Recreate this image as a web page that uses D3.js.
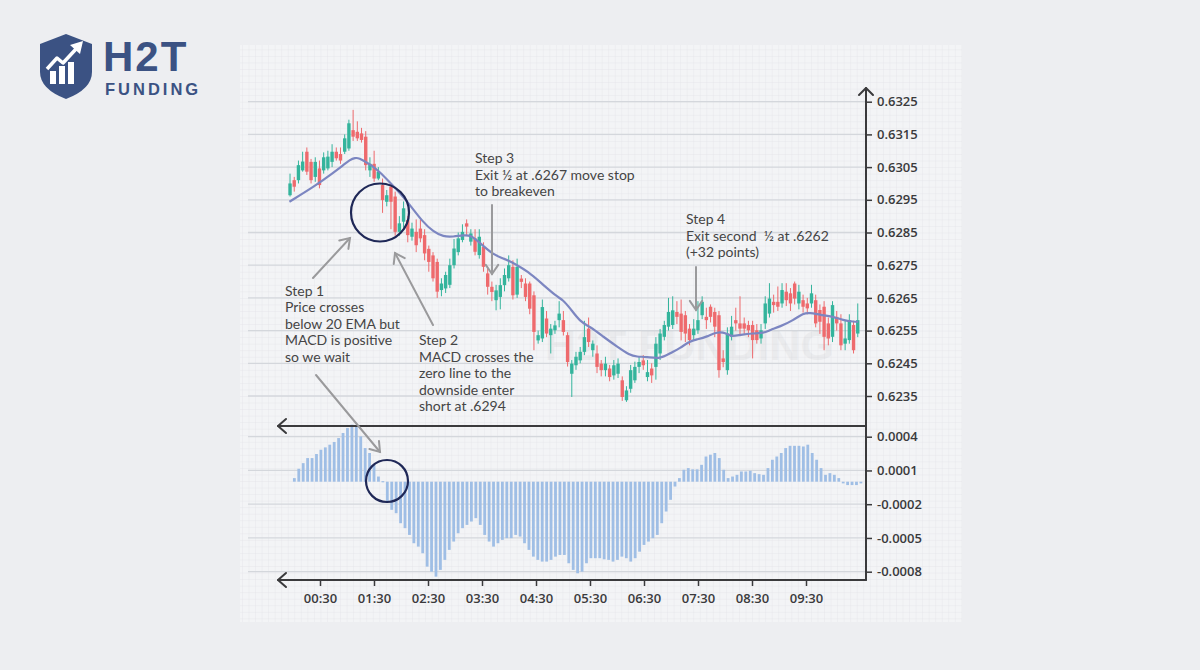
<!DOCTYPE html>
<html><head><meta charset="utf-8">
<script src="https://cdn.jsdelivr.net/npm/d3@7"></script>
<style>html,body{margin:0;padding:0;background:#edeef1;} svg{display:block;}</style>
</head><body>
<svg id="c" width="1200" height="670"></svg>
<script>
// ---------- DATA ----------
const timeTicks = [30, 90, 150, 210, 270, 330, 390, 450, 510, 570];
const timeLabels = ["00:30","01:30","02:30","03:30","04:30","05:30","06:30","07:30","08:30","09:30"];
const priceTicks = [0.6325, 0.6315, 0.6305, 0.6295, 0.6285, 0.6275, 0.6265, 0.6255, 0.6245, 0.6235];
const macdTicks = [0.0004, 0.0001, -0.0002, -0.0005, -0.0008];

const candleOpen = [
0.62964,0.6301,0.6301,0.6304,0.63097,0.63066,0.6302,0.63046,0.6304,0.63046,
0.63066,0.63097,0.6309,0.63097,0.63107,0.63163,0.63158,0.63153,0.63143,0.6304,
0.6306,0.63015,0.62995,0.62944,0.6299,0.6296,0.62852,0.62883,0.62888,0.62837,
0.62852,0.62862,0.62842,0.628,0.6278,0.6276,0.62674,0.62679,0.6269,0.6275,
0.6279,0.62827,0.62878,0.62822,0.62832,
0.62781,0.62806,0.62725,0.62684,0.62643,0.62653,0.62689,0.6271,0.62745,0.6266,
0.62709,0.62694,0.62694,0.62658,0.6252,0.62526,0.62587,0.62536,0.62551,0.62582,
0.62582,0.62536,0.62418,0.62444,0.62459,0.62485,0.62556,0.6249,0.6248,0.62449,
0.62429,0.62434,0.62413,0.62418,0.62398,0.62337,0.62372,0.62398,0.62439,0.62459,
0.62408,0.62434,0.62439,
0.6248,0.62531,0.62562,0.62567,0.62607,0.62602,0.62597,0.62556,0.62536,0.62551,
0.62597,0.62592,0.62623,0.62607,0.62597,0.62465,0.62429,0.62531,0.62582,0.62572,
0.62572,0.62567,0.62567,0.62551,0.62526,0.62572,0.62602,0.62638,0.62638,0.62633,
0.62669,0.62664,0.62694,0.62633,0.62643,0.62633,0.62633,0.62643,0.62613,0.62623,
0.62572,0.62531,0.62592,0.62572,0.6251,0.62521,0.62567,0.62541];
const candleHigh = [
0.6303,0.6302,0.6307,0.63097,0.6311,0.63075,0.6308,0.6307,0.63095,0.631,
0.6312,0.6311,0.6311,0.6315,0.63195,0.63225,0.6319,0.6317,0.6316,0.6308,
0.631,0.6305,0.63015,0.6298,0.63,0.62975,0.629,0.62945,0.629,0.6288,
0.6289,0.6289,0.6286,0.6281,0.6279,0.6277,0.6271,0.6273,0.6277,0.6283,
0.6285,0.62875,0.6289,0.6286,0.6286,
0.6286,0.6282,0.6274,0.627,0.6269,0.6271,0.6274,0.6278,0.62765,0.6277,
0.6272,0.6271,0.627,0.6267,0.6255,0.62645,0.6261,0.6257,0.6258,0.6264,
0.6261,0.62545,0.6246,0.62485,0.625,0.6258,0.6259,0.6252,0.62505,0.6246,
0.6247,0.62445,0.6246,0.62465,0.6241,0.6238,0.62445,0.62455,0.6247,0.62475,
0.6246,0.6245,0.6253,
0.62555,0.6258,0.6265,0.62655,0.6264,0.62645,0.6261,0.6257,0.62585,0.6264,
0.62655,0.6262,0.6263,0.6262,0.6261,0.6249,0.6256,0.62595,0.6262,0.62655,
0.6259,0.6258,0.6258,0.6257,0.6257,0.62655,0.62695,0.6266,0.62685,0.62695,
0.62695,0.6268,0.627,0.6269,0.6266,0.6265,0.6269,0.6266,0.6263,0.6264,
0.6259,0.6264,0.6261,0.626,0.6258,0.626,0.6258,0.62633];
const candleLow = [
0.6296,0.62975,0.63,0.63036,0.63026,0.63,0.63005,0.62985,0.6303,0.6304,
0.6305,0.6307,0.6306,0.6309,0.631,0.6313,0.6313,0.63125,0.6304,0.6302,
0.63005,0.6301,0.6291,0.6293,0.6286,0.6284,0.6284,0.6286,0.6282,0.62825,
0.6279,0.6282,0.62765,0.6273,0.627,0.6265,0.62655,0.62665,0.6268,0.6274,
0.6278,0.6282,0.6284,0.6281,0.6278,
0.6277,0.6273,0.6266,0.6264,0.62612,0.62615,0.6267,0.627,0.62645,0.6265,
0.6268,0.6264,0.626,0.6249,0.6251,0.62515,0.6253,0.6248,0.6254,0.6256,
0.62535,0.6244,0.62347,0.6243,0.6245,0.62475,0.625,0.6247,0.6242,0.6241,
0.6241,0.62395,0.624,0.62405,0.62335,0.62332,0.6236,0.6239,0.6242,0.6243,
0.62395,0.6239,0.624,
0.6246,0.6252,0.6255,0.62555,0.6257,0.6252,0.62515,0.62505,0.6252,0.6254,
0.62585,0.62555,0.62575,0.6253,0.62406,0.62438,0.62415,0.6252,0.6255,0.62535,
0.6254,0.6253,0.62465,0.6251,0.6251,0.62555,0.6259,0.62605,0.6261,0.6262,
0.62625,0.6261,0.6263,0.62615,0.62605,0.626,0.6262,0.6256,0.6254,0.6249,
0.62505,0.62515,0.6255,0.6249,0.6249,0.6251,0.6248,0.6253];
const candleClose = [
0.63,0.6299,0.63056,0.63067,0.63036,0.6301,0.63066,0.62995,0.6308,0.63082,
0.63097,0.63077,0.6307,0.63138,0.63184,0.63143,0.63138,0.63133,0.63056,0.6306,
0.63015,0.63036,0.62949,0.62964,0.62944,0.62852,0.62878,0.62924,0.62842,0.62862,
0.62811,0.62832,0.62786,0.6276,0.6271,0.62669,0.62694,0.6272,0.6275,0.62801,
0.62832,0.62852,0.62868,0.62847,0.62791,
0.62837,0.62745,0.62684,0.62668,0.62673,0.62689,0.6272,0.6275,0.62658,0.62745,
0.62699,0.62653,0.62617,0.62546,0.62536,0.62622,0.62541,0.62556,0.62566,0.62602,
0.62546,0.62454,0.62449,0.6247,0.62485,0.6253,0.62515,0.6251,0.62439,0.62429,
0.62449,0.62408,0.62444,0.62449,0.62347,0.62367,0.62429,0.62439,0.62454,0.62444,
0.62423,0.62413,0.6251,
0.62541,0.62567,0.62607,0.62612,0.62592,0.62546,0.62541,0.62521,0.62556,0.62582,
0.62638,0.62582,0.62592,0.62562,0.62429,0.62454,0.62541,0.62562,0.62572,0.62556,
0.62556,0.62551,0.62521,0.62521,0.62551,0.62633,0.62648,0.62628,0.62623,0.62674,
0.62643,0.62633,0.62648,0.62669,0.62623,0.62618,0.62664,0.62572,0.62577,0.62531,
0.62526,0.62628,0.62572,0.62505,0.62526,0.62582,0.6249,0.62582];

// 20 EMA (minutes from 00:00, price)
const emaTime = [-4,26,44,56,63,69,74,80,87,96,107,119,130,144,156,167,178,189,198,208,
223,234,249,261,274,293,300,308,319,330,345,360,374,382,393,408,419,430,441,449,
460,471,482,487,497,511,523,530,541,556,567,574,586,600,611,623,628];
const emaValue = [0.62944,0.62995,0.63031,0.63056,0.63072,0.63079,0.63077,0.63067,0.63056,0.63036,
0.63005,0.6297,0.62934,0.62883,0.62852,0.62837,0.62837,0.62842,0.62842,0.62817,
0.62781,0.62771,0.62751,0.6273,0.627,0.62654,0.62644,0.62618,0.62577,0.62562,
0.62531,0.62501,0.62475,0.6247,0.6247,0.62463,0.62481,0.62496,0.62518,0.62523,
0.62531,0.62547,0.62542,0.62531,0.62537,0.62542,0.62542,0.62552,0.62562,0.62582,
0.62603,0.62605,0.62598,0.62593,0.62582,0.62577,0.62577];

// MACD histogram
const macdValues = [
3.2e-5,11.5e-5,16.5e-5,21e-5,21e-5,24.6e-5,28.4e-5,30.5e-5,32.9e-5,35.3e-5,
38.8e-5,43.3e-5,47.7e-5,50.7e-5,49.2e-5,40.3e-5,29.9e-5,25.5e-5,15e-5,4.6e-5,
0.5e-5,-17.6e-5,-25e-5,-28e-5,-36.9e-5,-41.3e-5,-47.3e-5,-54.7e-5,-57.7e-5,-63.6e-5,
-75.5e-5,-80e-5,-84.4e-5,-78.4e-5,-69.5e-5,-60.6e-5,-53.2e-5,-45.8e-5,-41.3e-5,-38.4e-5,
-35.4e-5,-32.4e-5,-38.4e-5,-47.3e-5,-53.2e-5,-57.7e-5,-54.7e-5,-51.7e-5,-50.2e-5,-50.2e-5,
-47.3e-5,-48.8e-5,-54.7e-5,-60.6e-5,-66.6e-5,-69.5e-5,-71e-5,-71e-5,-69.5e-5,-66.6e-5,
-65.1e-5,-65.1e-5,-72.5e-5,-78.4e-5,-81.4e-5,-80e-5,
-72.5e-5,-68e-5,-68e-5,-68e-5,-69e-5,-69.5e-5,-71e-5,-69.5e-5,-66.6e-5,-68e-5,
-71e-5,-68e-5,-62.2e-5,-56.2e-5,-53.2e-5,-50.2e-5,-47.3e-5,-36.9e-5,-26.5e-5,-16.1e-5,
-4.3e-5,3.2e-5,10.6e-5,12.1e-5,11e-5,11e-5,15e-5,22.4e-5,24e-5,25.5e-5,
21e-5,10.6e-5,3.2e-5,4.6e-5,6.1e-5,9.1e-5,9.1e-5,9.7e-5,7.6e-5,6.7e-5,
6.1e-5,12.1e-5,19.5e-5,22.4e-5,25.5e-5,29.9e-5,31.9e-5,31.9e-5,31.9e-5,31.3e-5,
32.9e-5,25.5e-5,19.5e-5,12.1e-5,6.1e-5,7.6e-5,6.1e-5,3.2e-5,-1.5e-5,-3e-5,
-3e-5,-3e-5,-1.5e-5];

// ---------- DRAW ----------
const svg = d3.select("#c");
const W = 1200, H = 670;
svg.append("rect").attr("width", W).attr("height", H).attr("fill", "#edeef1");

const defs = svg.append("defs");
const pat = defs.append("pattern").attr("id","grid").attr("width",6.54).attr("height",6.54)
  .attr("patternUnits","userSpaceOnUse").attr("x",0).attr("y",101.7);
pat.append("path").attr("d","M6.54 0 L0 0 0 6.54").attr("fill","none").attr("stroke","#e0e2e7").attr("stroke-width",0.7);

svg.append("rect").attr("x",240).attr("y",45).attr("width",722).attr("height",577).attr("fill","#f3f4f6");
svg.append("rect").attr("x",240).attr("y",45).attr("width",722).attr("height",577).attr("fill","url(#grid)");

// scales
const xTime = d3.scaleLinear().domain([30, 570]).range([320, 806]);
const xCandle = d3.scaleLinear().domain([0, candleOpen.length - 1]).range([xTime(-3.3), xTime(627.5)]);
const xMacd = d3.scaleLinear().domain([0, macdValues.length - 1]).range([xTime(1.5), xTime(631)]);
const yPrice = d3.scaleLinear().domain([0.6235, 0.6325]).range([396, 101.7]);
const yMacd = d3.scaleLinear().domain([-0.0008, 0.0004]).range([571.7, 436.7]);

// major horizontal grid
const gGrid = svg.append("g");
gGrid.selectAll("line.p").data(priceTicks).join("line")
  .attr("x1",248).attr("x2",866).attr("y1",d=>yPrice(d)).attr("y2",d=>yPrice(d))
  .attr("stroke","#d4d7dc").attr("stroke-width",1.3);
gGrid.selectAll("line.m").data(macdTicks).join("line")
  .attr("x1",248).attr("x2",866).attr("y1",d=>yMacd(d)).attr("y2",d=>yMacd(d))
  .attr("stroke","#d4d7dc").attr("stroke-width",1.3);

// faint watermark (kept clear of the annotation texts and the axis labels)
svg.append("text").attr("x",545).attr("y",360).attr("font-family","Liberation Sans, Arial, sans-serif")
  .attr("font-weight","bold").attr("font-size",43).attr("fill","#000").attr("opacity",0.03).text("H2T FUNDING");

// candles
const green = "#34b49c", red = "#ee6a6d";
const idx = d3.range(candleOpen.length);
const gC = svg.append("g");
gC.selectAll("line").data(idx).join("line")
  .attr("x1",i=>xCandle(i)).attr("x2",i=>xCandle(i))
  .attr("y1",i=>yPrice(candleHigh[i])).attr("y2",i=>yPrice(candleLow[i]))
  .attr("stroke",i=>candleClose[i]>=candleOpen[i]?green:red).attr("stroke-width",1);
gC.selectAll("rect").data(idx).join("rect")
  .attr("x",i=>xCandle(i)-1.7).attr("width",3.4)
  .attr("y",i=>yPrice(Math.max(candleOpen[i],candleClose[i])))
  .attr("height",i=>Math.max(1.2, Math.abs(yPrice(candleOpen[i])-yPrice(candleClose[i]))))
  .attr("fill",i=>candleClose[i]>=candleOpen[i]?green:red);

// EMA
const emaLine = d3.line().x(i=>xTime(emaTime[i])).y(i=>yPrice(emaValue[i])).curve(d3.curveBasis);
svg.append("path").attr("d", emaLine(d3.range(emaTime.length)))
  .attr("fill","none").attr("stroke","#7c86c1").attr("stroke-width",2.2);

// MACD bars
svg.append("g").selectAll("rect").data(macdValues).join("rect")
  .attr("x",(d,i)=>xMacd(i)-1.4).attr("width",2.8)
  .attr("y",d=>yMacd(Math.max(d,0)))
  .attr("height",d=>Math.max(1.2, Math.abs(yMacd(d)-yMacd(0))))
  .attr("fill","#9fbee5");

// axes frame
const axCol = "#3a3a3c";
const frame = svg.append("g").attr("stroke",axCol).attr("stroke-width",2).attr("fill","none").attr("stroke-linecap","round").attr("stroke-linejoin","round");
frame.append("line").attr("x1",866).attr("x2",866).attr("y1",88).attr("y2",580);
frame.append("path").attr("d","M859,95 L866,88 L873,95");
frame.append("line").attr("x1",278).attr("x2",866).attr("y1",426).attr("y2",426);
frame.append("path").attr("d","M286,419 L278,426 L286,433");
frame.append("line").attr("x1",278).attr("x2",866).attr("y1",580).attr("y2",580);
frame.append("path").attr("d","M286,573 L278,580 L286,587");

const axFont = "'Open Sans', 'DejaVu Sans', sans-serif";
const yAx = svg.append("g").attr("transform","translate(866,0)")
  .call(d3.axisRight(yPrice).tickValues(priceTicks).tickSize(6).tickPadding(5).tickFormat(d3.format(".4f")));
const mAx = svg.append("g").attr("transform","translate(866,0)")
  .call(d3.axisRight(yMacd).tickValues(macdTicks).tickSize(6).tickPadding(5).tickFormat(d=>d.toFixed(4)));
const xAx = svg.append("g").attr("transform","translate(0,580)")
  .call(d3.axisBottom(xTime).tickValues(timeTicks).tickSize(6).tickPadding(8).tickFormat((d,i)=>timeLabels[i]));
[yAx,mAx,xAx].forEach(a=>{
  a.select(".domain").remove();
  a.selectAll(".tick line").attr("stroke",axCol).attr("stroke-width",1.5);
  a.selectAll(".tick text").attr("fill","#3a3a3c").attr("font-size",13).attr("font-weight",600).attr("font-family",axFont);
});

// circles
svg.append("circle").attr("cx",380).attr("cy",212.5).attr("r",29).attr("fill","none").attr("stroke","#1f2857").attr("stroke-width",2.2);
svg.append("circle").attr("cx",387).attr("cy",481).attr("r",21).attr("fill","none").attr("stroke","#1f2857").attr("stroke-width",2.2);

// arrows
const gA = svg.append("g").attr("stroke","#9a9a9c").attr("stroke-width",2).attr("fill","none").attr("stroke-linecap","round");
function arrow(x1,y1,x2,y2){
  gA.append("line").attr("x1",x1).attr("y1",y1).attr("x2",x2).attr("y2",y2);
  const a = Math.atan2(y2-y1,x2-x1), L = 11, s = 0.6;
  gA.append("path").attr("d",`M${x2-L*Math.cos(a-s)},${y2-L*Math.sin(a-s)} L${x2},${y2} L${x2-L*Math.cos(a+s)},${y2-L*Math.sin(a+s)}`);
}
arrow(313,278,350,238);
arrow(433,325,395,253);
arrow(316,375,380,452);
arrow(492,205,492,274);
arrow(696,267,696,310);

// annotation texts
const txtFont = "Lato, 'Open Sans', sans-serif";
function note(x, y0, lines){
  const t = svg.append("text").attr("font-family",txtFont).attr("font-size",14).attr("fill","#454545")
    .attr("xml:space","preserve").style("white-space","pre");
  lines.forEach((l,k)=>t.append("tspan").attr("x",x).attr("y",y0+k*16.5).text(l));
}
note(475,163,["Step 3","Exit ½ at .6267 move stop","to breakeven"]);
note(686,224,["Step 4","Exit second  ½ at .6262","(+32 points)"]);
note(285,295.5,["Step 1","Price crosses","below 20 EMA but","MACD is positive","so we wait"]);
note(419,345,["Step 2","MACD crosses the","zero line to the","downside enter","short at .6294"]);

// logo
const logo = svg.append("g");
const navy = "#3b5283";
logo.append("path").attr("d","M40,44 L66,34 L92,44 L92,72 Q92,89 66,99 Q40,89 40,72 Z").attr("fill",navy);
logo.append("rect").attr("x",50).attr("y",71).attr("width",6).attr("height",13).attr("fill","#fff");
logo.append("rect").attr("x",59).attr("y",66).attr("width",6).attr("height",18).attr("fill","#fff");
logo.append("rect").attr("x",68).attr("y",62).attr("width",6).attr("height",22).attr("fill","#fff");
logo.append("path").attr("d","M47,69 L57,58 L63,63 L76,49").attr("fill","none").attr("stroke","#fff").attr("stroke-width",3.5).attr("stroke-linejoin","round");
logo.append("path").attr("d","M70,45 L83,41 L80,54 Z").attr("fill","#fff");
logo.append("text").attr("x",103).attr("y",71).attr("font-family","'Liberation Sans', Arial, sans-serif")
  .attr("font-weight","bold").attr("font-size",42).attr("letter-spacing",2).attr("fill",navy).text("H2T");
logo.append("text").attr("x",105).attr("y",95).attr("font-family","'Liberation Sans', Arial, sans-serif")
  .attr("font-weight","bold").attr("font-size",16.5).attr("letter-spacing",3).attr("fill",navy).text("FUNDING");
</script>
</body></html>
